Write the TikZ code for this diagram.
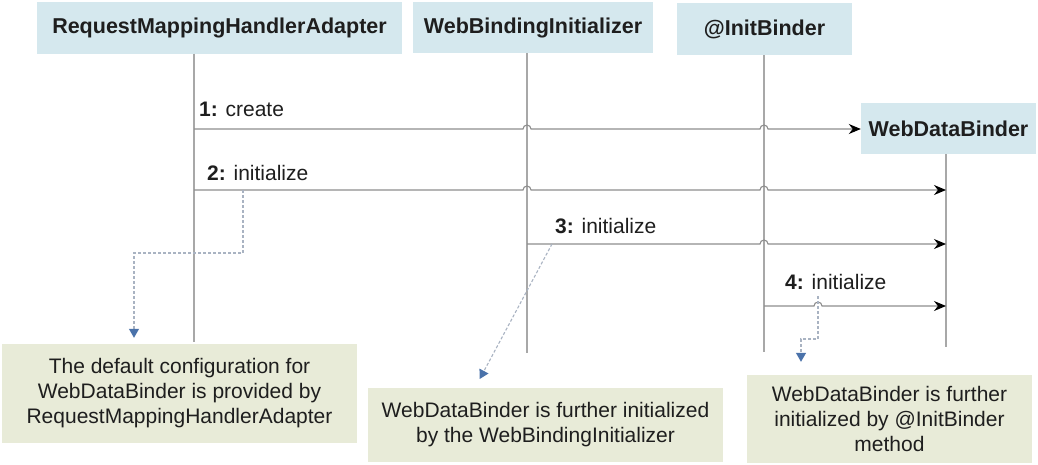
\documentclass[tikz,border=0pt]{standalone}
\usepackage{fontspec}
\setmainfont{Liberation Sans}
\usetikzlibrary{arrows.meta,calc}

\definecolor{headblue}{HTML}{D5E8EE}
\definecolor{notegreen}{HTML}{E8EBD8}
\definecolor{lifegray}{HTML}{A8A8A8}
\definecolor{msggray}{HTML}{8E8E8E}
\definecolor{linkgray}{HTML}{A9B3C2}
\definecolor{linkblue}{HTML}{4A72AA}
\definecolor{txt}{HTML}{1E1E1E}

\begin{document}
\begin{tikzpicture}[x=1pt, y=-1pt, >=Stealth,
    head/.style={fill=headblue, text=txt, font=\fontsize{21.5}{25}\selectfont\bfseries, inner sep=0pt},
    note/.style={fill=notegreen, text=txt, font=\fontsize{21}{25}\selectfont, align=center, inner sep=0pt},
    life/.style={draw=lifegray, line width=1.3pt},
    msg/.style={draw=msggray, line width=1.1pt, -{Stealth[length=12pt, width=10pt, black]}},
    msgtxt/.style={text=txt, font=\fontsize{21}{25}\selectfont, anchor=base west, inner sep=0pt},
    link/.style={draw=linkgray, dash pattern=on 3pt off 2pt, line width=1.1pt, -{Triangle[length=9pt, width=10pt, linkblue]}}]

    % Hintergrund
    \fill[white] (0,0) rectangle (1038,464);
    \useasboundingbox (0,0) rectangle (1038,464);

    % Objekte oben
    \node[head, minimum width=365, minimum height=52] (rmha) at (219.5,27.5) {RequestMappingHandlerAdapter};
    \node[head, minimum width=240, minimum height=51] (wbi) at (533,27.5) {WebBindingInitializer};
    \node[head, minimum width=175, minimum height=52] (ib) at (764.5,29) {@InitBinder};
    \node[head, minimum width=175, minimum height=51] (wdb) at (948.5,128.5) {WebDataBinder};

    % Lebenslinien
    \draw[life] ([xshift=-25.5]rmha.south) coordinate (l1) -- ++(0,288);
    \draw[life] ([xshift=-6]wbi.south) coordinate (l2) -- ++(0,300);
    \draw[life] ([xshift=-0.5]ib.south) coordinate (l3) -- ++(0,297);
    \draw[life] ([xshift=-2.5]wdb.south) coordinate (l4) -- ++(0,193);

    % Hoehen der Nachrichten
    \coordinate (m1) at (0,129);
    \coordinate (m2) at (0,190);
    \coordinate (m3) at (0,244);
    \coordinate (m4) at (0,306);

    % 1: create
    \draw[msg] (l1 |- m1) -- ($(l2 |- m1)+(-4,0)$) arc[start angle=180, end angle=360, radius=4]
      -- ($(l3 |- m1)+(-4,0)$) arc[start angle=180, end angle=360, radius=4] -- (wdb.west |- m1);
    \node[msgtxt] (t1) at (199,116) {\textbf{1:} create};

    % 2: initialize
    \draw[msg] (l1 |- m2) -- ($(l2 |- m2)+(-4,0)$) arc[start angle=180, end angle=360, radius=4]
      -- ($(l3 |- m2)+(-4,0)$) arc[start angle=180, end angle=360, radius=4] -- (l4 |- m2);
    \node[msgtxt] (t2) at (207,180) {\textbf{2:} initialize};

    % 3: initialize
    \draw[msg] (l2 |- m3) -- ($(l3 |- m3)+(-4,0)$) arc[start angle=180, end angle=360, radius=4] -- (l4 |- m3);
    \node[msgtxt] (t3) at (555,233) {\textbf{3:} initialize};

    % 4: initialize
    \draw[msg] (l3 |- m4) -- (814,306) arc[start angle=180, end angle=360, radius=4] -- (l4 |- m4);
    \node[msgtxt] (t4) at (785,289) {\textbf{4:} initialize};

    % Notizen
    \node[note, minimum width=355, minimum height=99] (note1) at (179.5,393.5)
      {The default configuration for\\WebDataBinder is provided by\\RequestMappingHandlerAdapter};
    \node[note, minimum width=355, minimum height=74] (note2) at (545.5,425)
      {WebDataBinder is further initialized\\by the WebBindingInitializer};
    \node[note, minimum width=285, minimum height=88] (note3) at (889.5,419)
      {WebDataBinder is further\\initialized by @InitBinder\\method};

    % Verweise auf die Notizen
    \coordinate (c1) at (243,190);
    \coordinate (c2) at (552,244);
    \coordinate (c3) at (818,296);
    \draw[link, shorten >=6pt] (c1) -- ++(0,63) -| ([xshift=-45.5]note1.north);
    \draw[link, shorten >=10pt] (c2) -- ([xshift=-70.5]note2.north);
    \draw[link, shorten >=13pt] (c3) -- ++(0,43) -| ([xshift=-88.5]note3.north);
\end{tikzpicture}
\end{document}
